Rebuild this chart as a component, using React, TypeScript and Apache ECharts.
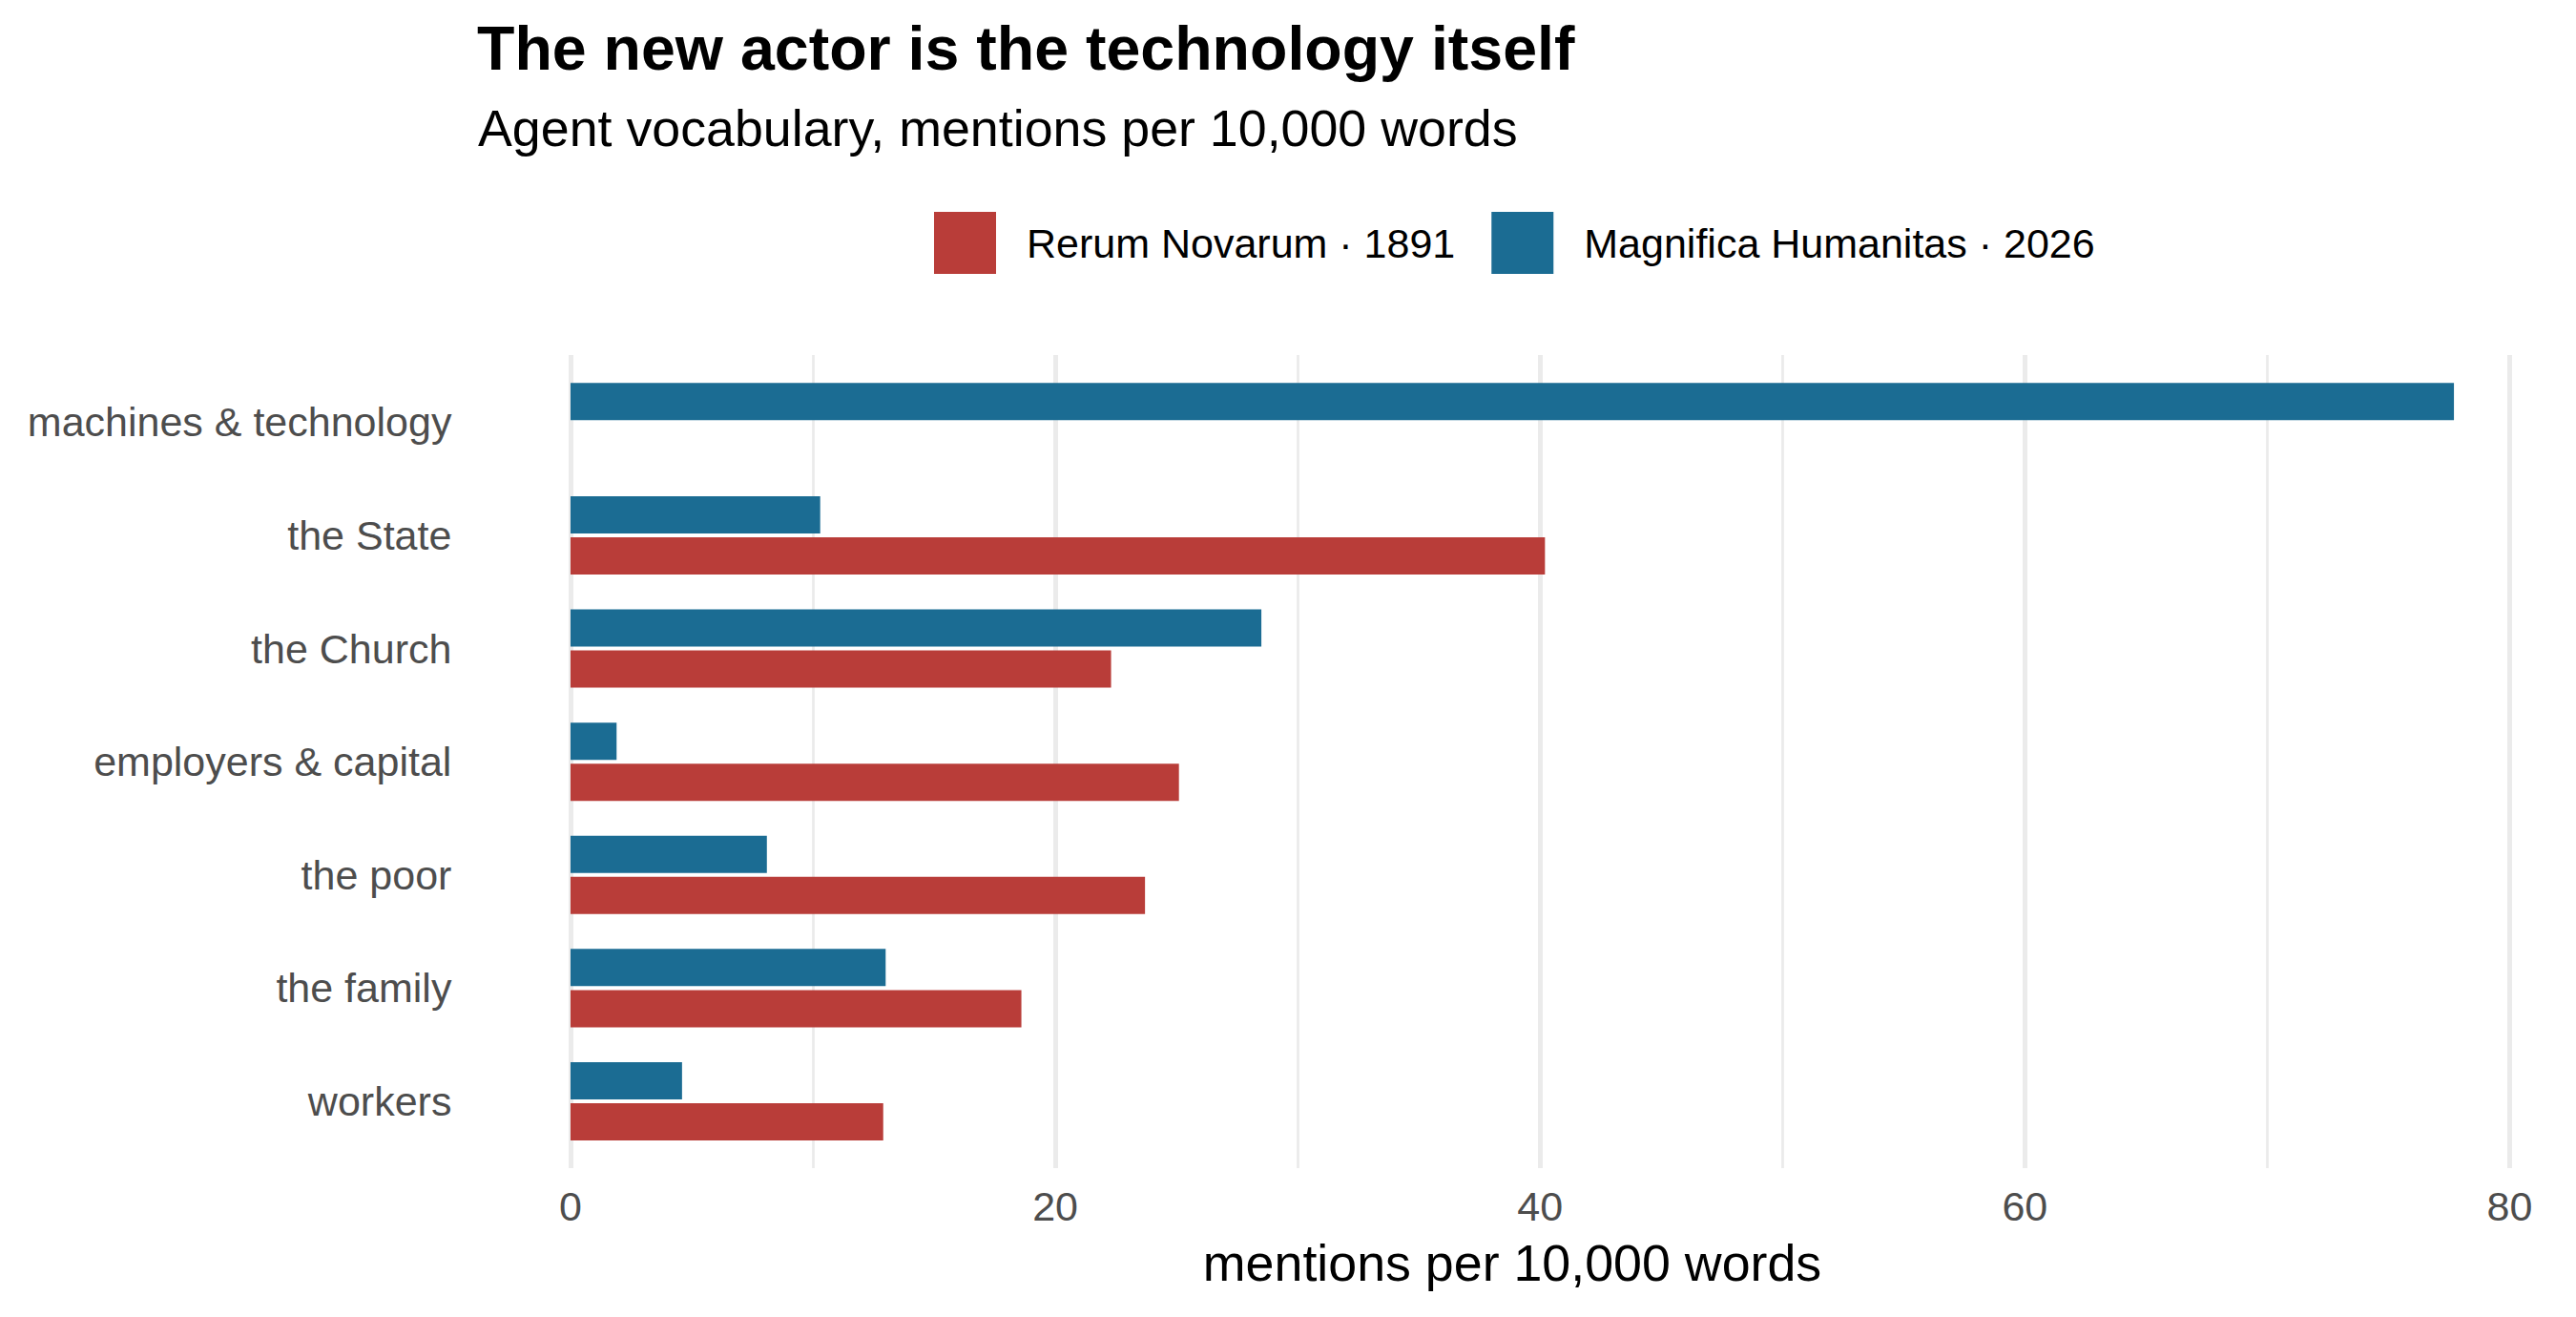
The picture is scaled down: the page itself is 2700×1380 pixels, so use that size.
import React, { useEffect, useRef } from "react";
import * as echarts from "echarts";

const categories = [
  "machines & technology",
  "the State",
  "the Church",
  "employers & capital",
  "the poor",
  "the family",
  "workers",
];
const rerumNovarum1891 = [0, 40.2, 22.3, 25.1, 23.7, 18.6, 12.9];
const magnificaHumanitas2026 = [77.7, 10.3, 28.5, 1.9, 8.1, 13.0, 4.6];
const seriesNames = ["Rerum Novarum · 1891", "Magnifica Humanitas · 2026"];
const xTicks = [0, 20, 40, 60, 80];

const FONT = '"Liberation Sans", Arial, Helvetica, sans-serif';
const RED = "#B93D39";
const BLUE = "#1B6C93";
const GRID_COLOR = "#EBEBEB";

export default function App() {
  const ref = useRef<HTMLDivElement>(null);
  useEffect(() => {
    if (!ref.current) return;
    const chart = echarts.init(ref.current, undefined, { renderer: "svg" });
    const xMin = xTicks[0];
    const xMax = xTicks[xTicks.length - 1];
    const option = {
      animation: false,
      backgroundColor: "#ffffff",
      textStyle: { fontFamily: FONT },
      legend: {
        data: seriesNames,
        left: 979,
        top: 222,
        padding: 0,
        itemWidth: 65,
        itemHeight: 65,
        itemGap: 38,
        icon: "rect",
        selectedMode: false,
        textStyle: {
          fontFamily: FONT,
          fontSize: 43,
          color: "#000000",
          padding: [0, 0, 0, 27],
        },
      },
      grid: [
        { left: 598, right: 69.5, top: 372, bottom: 156 },
        { left: 598, right: 69.5, top: 383, bottom: 166.7 },
      ],
      xAxis: [
        {
          type: "value",
          gridIndex: 0,
          min: xMin,
          max: xMax,
          interval: 20,
          axisLine: { show: false },
          axisTick: { show: false },
          axisLabel: {
            fontFamily: FONT,
            fontSize: 43,
            color: "#4D4D4D",
            margin: 18,
          },
          splitLine: { show: true, lineStyle: { color: GRID_COLOR, width: 5 } },
          minorTick: { show: false, splitNumber: 2 },
          minorSplitLine: { show: true, lineStyle: { color: GRID_COLOR, width: 2.8 } },
        },
        {
          type: "value",
          gridIndex: 1,
          min: xMin,
          max: xMax,
          show: false,
          splitLine: { show: false },
        },
      ],
      yAxis: [
        { type: "value", gridIndex: 0, show: false, splitLine: { show: false } },
        {
          type: "category",
          gridIndex: 1,
          data: categories,
          inverse: true,
          axisLine: { show: false },
          axisTick: { show: false },
          splitLine: { show: false },
          axisLabel: {
            fontFamily: FONT,
            fontSize: 43,
            color: "#4D4D4D",
            margin: 124.6,
          },
        },
      ],
      series: [
        {
          name: seriesNames[1],
          type: "bar",
          xAxisIndex: 1,
          yAxisIndex: 1,
          data: magnificaHumanitas2026,
          barWidth: 39,
          barGap: "10.3%",
          itemStyle: { color: BLUE },
        },
        {
          name: seriesNames[0],
          type: "bar",
          xAxisIndex: 1,
          yAxisIndex: 1,
          data: rerumNovarum1891,
          barWidth: 39,
          barGap: "10.3%",
          itemStyle: { color: RED },
        },
      ],
      graphic: [
        {
          type: "text",
          x: 500,
          y: 50.5,
          style: {
            text: "The new actor is the technology itself",
            fontFamily: FONT,
            fontSize: 64.5,
            fontWeight: "bold",
            fill: "#000000",
            align: "left",
            verticalAlign: "middle",
          },
        },
        {
          type: "text",
          x: 501,
          y: 134,
          style: {
            text: "Agent vocabulary, mentions per 10,000 words",
            fontFamily: FONT,
            fontSize: 53.75,
            fill: "#000000",
            align: "left",
            verticalAlign: "middle",
          },
        },
        {
          type: "text",
          x: 1585,
          y: 1322.5,
          style: {
            text: "mentions per 10,000 words",
            fontFamily: FONT,
            fontSize: 53.75,
            fill: "#000000",
            align: "center",
            verticalAlign: "middle",
          },
        },
      ],
    };
    chart.setOption(option);
    return () => chart.dispose();
  }, []);
  return (
    <div
      ref={ref}
      style={{ position: "absolute", left: 0, top: 0, width: 2700, height: 1380 }}
    />
  );
}
